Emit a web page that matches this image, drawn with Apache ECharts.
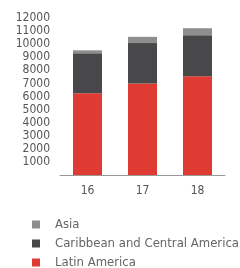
<!DOCTYPE html>
<html>
<head>
<meta charset="utf-8">
<script src="https://cdn.jsdelivr.net/npm/echarts@6/dist/echarts.min.js"></script>
<style>
  html, body { margin: 0; padding: 0; background: #fff; }
  #chart { width: 240px; height: 268px; }
</style>
</head>
<body>
<div id="chart"></div>
<script>
// 年份
var years = ['16', '17', '18'];
// 各地区数值
var latinAmerica = [6250, 7000, 7550];
var caribbean = [3050, 3080, 3140];
var asia = [230, 480, 530];

var chart = echarts.init(document.getElementById('chart'));
var font = "'Liberation Sans Narrow', 'DejaVu Sans Condensed', sans-serif";

var option = {
  animation: false,
  grid: {
    left: 60,
    right: 15,
    top: 18,
    bottom: 93
  },
  legend: {
    orient: 'vertical',
    left: 32,
    top: 218,
    height: 60,
    padding: 0,
    itemWidth: 8,
    itemHeight: 8,
    itemGap: 6,
    icon: 'rect',
    data: ['Asia', 'Caribbean and Central America', 'Latin America'],
    textStyle: {
      color: '#666',
      fontSize: 13,
      lineHeight: 13,
      fontFamily: font,
      padding: [0, 0, 0, 10]
    }
  },
  xAxis: {
    type: 'category',
    data: years,
    axisLine: { lineStyle: { color: '#999' } },
    axisTick: { inside: true, length: 2, lineStyle: { color: '#999' } },
    axisLabel: { color: '#555', fontSize: 12, fontFamily: font, margin: 10 }
  },
  yAxis: {
    type: 'value',
    min: 0,
    max: 12000,
    interval: 1000,
    splitLine: { show: false },
    axisLine: { show: false },
    axisTick: { show: false },
    axisLabel: {
      color: '#555',
      fontSize: 12,
      fontFamily: font,
      margin: 10,
      formatter: function(v) { return v === 0 ? '' : v; }
    }
  },
  series: [
    {
      name: 'Latin America',
      type: 'bar',
      stack: 'total',
      barWidth: 29,
      itemStyle: { color: '#e03b33' },
      data: latinAmerica
    },
    {
      name: 'Caribbean and Central America',
      type: 'bar',
      stack: 'total',
      itemStyle: { color: '#48484b' },
      data: caribbean
    },
    {
      name: 'Asia',
      type: 'bar',
      stack: 'total',
      itemStyle: { color: '#8e8e8e' },
      data: asia
    }
  ]
};

chart.setOption(option);
window.onresize = chart.resize;
</script>
</body>
</html>
